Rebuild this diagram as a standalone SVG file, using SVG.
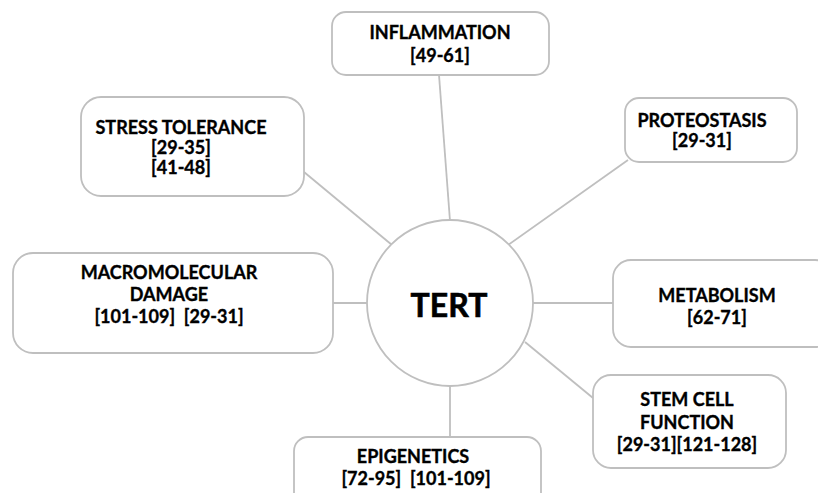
<svg xmlns="http://www.w3.org/2000/svg" width="818" height="493" viewBox="0 0 818 493">
<style>
.box{fill:#ffffff;stroke:#bfbfbf;stroke-width:1.8}
.edge{stroke:#bfbfbf;stroke-width:1.8;fill:none}
.t{font-family:Lato,"Liberation Sans",sans-serif;font-weight:bold;font-size:18px;fill:#000;stroke:#000;stroke-width:0.35;text-anchor:middle;white-space:pre}
.big{font-size:32px;stroke-width:0.6}
</style>
<rect width="818" height="493" fill="#ffffff"/>
<g id="connectors">
<line class="edge" x1="439" y1="75" x2="450" y2="221"/>
<line class="edge" x1="304" y1="172" x2="392" y2="245"/>
<line class="edge" x1="628" y1="160" x2="508" y2="245"/>
<line class="edge" x1="333" y1="303" x2="367" y2="303"/>
<line class="edge" x1="533" y1="303" x2="613" y2="303"/>
<line class="edge" x1="525" y1="342" x2="593" y2="398"/>
<line class="edge" x1="450" y1="386" x2="450" y2="437"/>
</g>
<g id="tert">
<circle class="box" cx="450" cy="303" r="83"/>
<text class="t big" x="449" y="317">TERT</text>
</g>
<g id="inflammation">
<rect class="box" x="332" y="12" width="217" height="63" rx="14"/>
<text class="t" x="440" y="39">INFLAMMATION</text>
<text class="t" x="440" y="62">[49-61]</text>
</g>
<g id="stress">
<rect class="box" x="81" y="97" width="223" height="99" rx="20"/>
<text class="t" x="181" y="134">STRESS TOLERANCE</text>
<text class="t" x="181" y="154">[29-35]</text>
<text class="t" x="181" y="174">[41-48]</text>
</g>
<g id="proteostasis">
<rect class="box" x="625" y="98" width="172" height="64" rx="14"/>
<text class="t" x="702" y="127">PROTEOSTASIS</text>
<text class="t" x="702" y="147">[29-31]</text>
</g>
<g id="macromolecular">
<rect class="box" x="13" y="253" width="320" height="100" rx="20"/>
<text class="t" x="169" y="279">MACROMOLECULAR</text>
<text class="t" x="169" y="301">DAMAGE</text>
<text class="t" x="169" y="323" xml:space="preserve">[101-109]  [29-31]</text>
</g>
<g id="metabolism">
<rect class="box" x="613" y="260" width="220" height="87" rx="18"/>
<text class="t" x="717" y="302">METABOLISM</text>
<text class="t" x="717" y="324">[62-71]</text>
</g>
<g id="stemcell">
<rect class="box" x="593" y="375" width="193" height="93" rx="18"/>
<text class="t" x="687" y="406">STEM CELL</text>
<text class="t" x="687" y="429">FUNCTION</text>
<text class="t" x="687" y="451">[29-31][121-128]</text>
</g>
<g id="epigenetics">
<rect class="box" x="294" y="437" width="247" height="70" rx="14"/>
<text class="t" x="413" y="463">EPIGENETICS</text>
<text class="t" x="416" y="485" xml:space="preserve">[72-95]  [101-109]</text>
</g>
</svg>
